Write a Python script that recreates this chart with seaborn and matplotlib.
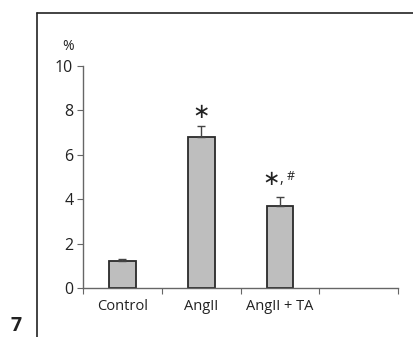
import pandas as pd
import seaborn as sns
import matplotlib.pyplot as plt
from matplotlib.lines import Line2D

# data
groups = ["Control", "AngII", "AngII + TA"]
values = [1.2, 6.8, 3.7]
errors = [0.1, 0.5, 0.4]

df = pd.DataFrame({"group": groups, "value": values})

sns.set_style("ticks")
plt.rcParams["font.family"] = ["Open Sans", "DejaVu Sans"]

fig = plt.figure(figsize=(4.14, 3.37), dpi=100)
ax = fig.add_axes([0.2005, 0.1454, 0.7609, 0.6588])

sns.barplot(data=df, x="group", y="value", order=groups, color="#bebebe",
            edgecolor="#2a2a2a", linewidth=1.3, width=0.34, saturation=1,
            errorbar=None, ax=ax)
ax.errorbar(range(len(groups)), values, yerr=[[0] * 3, errors], fmt="none",
            ecolor="#444444", elinewidth=1, capsize=3, capthick=1)

# significance marks
ax.text(1, values[1] + errors[1] + 0.62, "∗", ha="center", va="center",
        fontsize=15, family="DejaVu Sans", color="#222222")
ax.text(1.886, values[2] + errors[2] + 0.82, "∗", ha="center", va="center",
        fontsize=15, family="DejaVu Sans", color="#222222")
ax.text(1.996, values[2] + errors[2] + 0.63, ",", ha="left", va="baseline",
        fontsize=10.5, color="#222222")
ax.text(2.085, values[2] + errors[2] + 0.76, "#", ha="left", va="baseline",
        fontsize=9, color="#222222")

ax.set_xlim(-0.5, 3.5)
ax.set_ylim(0, 10)
ax.set_yticks([0, 2, 4, 6, 8, 10])
ax.set_xticks([-0.5, 0.5, 1.5, 2.5, 3.5])
ax.set_xticklabels([])
ax.set_xticks(range(len(groups)), minor=True)
ax.set_xticklabels(groups, minor=True)
ax.tick_params(axis="x", which="minor", length=0, pad=8, labelsize=10.5,
               labelcolor="#222222")
ax.tick_params(axis="x", which="major", length=4, color="#666666")
ax.tick_params(axis="y", length=4, color="#666666", labelsize=11.5, pad=3,
               labelcolor="#222222")
ax.set_xlabel("")
ax.set_ylabel("")
for s in ["top", "right"]:
    ax.spines[s].set_visible(False)
for s in ["left", "bottom"]:
    ax.spines[s].set_color("#666666")
    ax.spines[s].set_linewidth(1)

ax.text(-0.048, 1.09, "%", transform=ax.transAxes, ha="center", va="center",
        fontsize=10, color="#222222")

# outer frame lines and panel number
fig.add_artist(Line2D([0.0894, 0.0894], [0, 0.9614], color="#222222", lw=1.2))
fig.add_artist(Line2D([0.0894, 1], [0.9614, 0.9614], color="#222222", lw=1.2))
fig.text(0.04, 0.004, "7", ha="center", va="bottom", fontsize=14,
         fontweight="bold", color="#222222")

fig.savefig("out.png", dpi=100)
